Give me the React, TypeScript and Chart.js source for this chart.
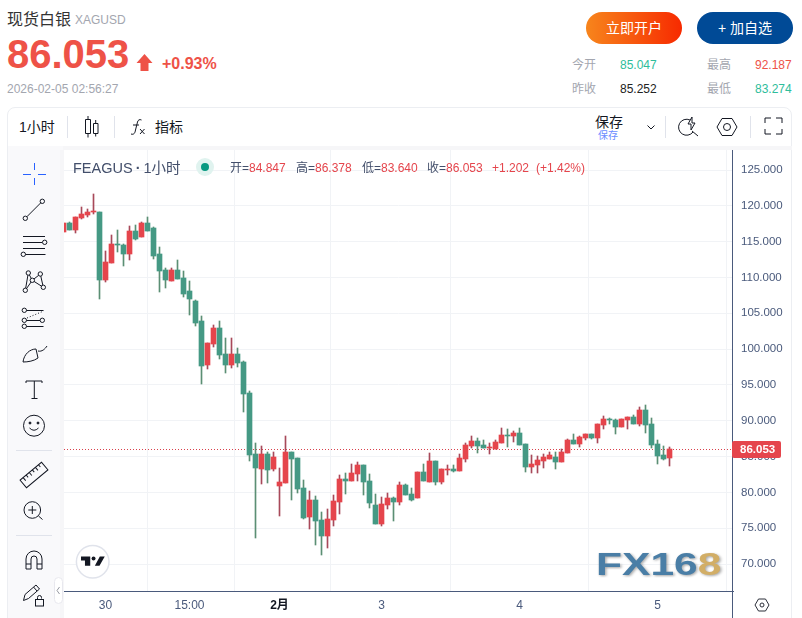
import React, { useEffect, useRef } from "react";
import { Chart, registerables } from "chart.js";

Chart.register(...registerables);

const opens = [116.34,117.60,116.62,118.30,118.72,119.14,119.14,109.64,112.02,114.67,114.53,113.27,116.48,115.65,117.60,116.90,113.27,111.04,109.50,111.04,109.92,108.11,106.71,103.92,97.78,100.71,102.94,99.31,97.78,99.31,98.20,93.87,85.36,83.26,85.36,83.26,80.89,81.31,85.63,84.80,80.61,76.56,78.93,76.14,73.91,76.14,78.65,81.86,81.58,82.56,83.82,81.58,78.23,75.58,78.23,79.21,78.65,81.03,79.77,79.21,82.84,81.45,84.38,81.45,83.12,83.26,82.98,84.66,86.47,87.17,86.61,86.19,86.05,86.89,88.01,87.87,88.29,86.75,83.54,83.82,84.38,84.66,84.94,84.24,85.49,87.31,86.75,87.59,88.15,87.59,89.40,90.24,90.10,89.12,90.10,90.52,89.54,91.50,89.54,86.75,85.22,84.847];
const highs = [117.60,117.74,118.44,119.84,119.56,121.65,119.14,113.69,115.93,116.62,114.67,117.18,117.32,117.74,118.44,117.04,114.25,111.32,111.32,112.44,110.90,109.50,106.85,104.62,100.85,103.36,103.92,101.55,101.55,100.15,98.34,94.15,86.89,86.47,85.63,85.63,83.40,87.87,85.63,84.80,81.72,80.19,79.49,77.26,77.68,79.63,82.42,82.70,83.96,84.24,83.82,82.56,79.77,79.35,79.91,79.35,81.45,81.17,80.61,82.84,83.96,85.49,84.38,83.26,83.82,83.82,85.36,86.89,87.87,87.59,87.31,86.89,87.31,88.98,88.84,88.57,88.98,86.75,85.22,85.08,85.36,85.63,85.63,86.05,87.45,88.14,87.87,88.15,88.15,89.54,90.66,90.38,90.24,90.24,90.52,90.80,91.92,92.187,90.38,87.31,86.47,86.378];
const lows = [116.34,116.62,116.20,118.16,118.44,118.86,106.99,109.36,112.02,113.55,111.60,112.44,115.23,115.65,116.48,112.58,107.97,108.53,109.50,109.78,107.27,104.76,103.22,95.12,97.22,100.29,98.62,96.66,97.36,97.50,91.22,84.38,73.63,81.17,81.31,82.98,76.70,81.31,78.93,79.91,76.28,74.88,72.65,71.25,72.23,75.30,76.98,79.77,81.58,81.58,79.63,77.82,75.58,75.30,77.68,76.00,78.23,79.63,78.79,79.21,81.58,81.45,81.03,81.17,82.42,82.84,82.98,84.24,86.19,85.49,86.19,85.36,86.05,86.89,86.33,87.03,86.61,82.84,82.70,82.70,83.40,84.66,83.26,84.24,85.49,86.75,86.33,87.31,87.45,86.89,88.84,89.54,88.15,89.12,88.84,89.54,89.26,88.29,86.19,83.96,84.52,83.640];
const closes = [117.60,116.62,118.44,118.86,119.14,119.32,109.64,112.16,114.67,114.53,113.27,116.48,115.37,117.60,116.48,112.99,110.90,109.64,111.04,109.78,107.69,106.99,103.64,97.64,100.85,102.94,99.17,97.78,99.31,98.06,93.73,85.22,83.40,85.36,83.12,84.94,81.45,85.63,84.66,80.47,76.42,78.93,76.00,73.91,76.28,78.79,81.86,81.58,82.70,83.82,81.45,78.51,75.58,78.37,79.21,78.65,81.03,79.63,78.93,82.84,81.58,84.38,81.45,83.26,83.26,82.98,84.80,86.61,87.17,86.47,86.19,86.33,87.03,88.01,87.87,88.29,86.61,83.54,83.96,84.52,84.94,85.22,84.24,85.63,87.31,86.75,87.73,88.15,87.59,89.54,90.24,90.10,89.12,90.24,90.52,89.54,91.50,89.40,86.61,85.08,84.66,86.053];

const priceTicks = [70, 75, 80, 85, 90, 95, 100, 105, 110, 115, 120, 125];
const timeTickIndex = [7, 21, 36, 53, 76, 99];
const timeTickLabels = ["30", "15:00", "2月", "3", "4", "5"];
const lastPrice = 86.053;

const FONT = '"Liberation Sans","Noto Sans CJK SC",sans-serif';
const UP = "#e5454c";
const DOWN = "#459984";
const UP_WICK = "#a8495a";
const DOWN_WICK = "#5b8f74";
const AXIS = "#4a5a7c";
const GRID = "#f1f3f6";
const X_MIN = 0.5 / 6;
const X_MAX = 669.5 / 6;
const Y_MAX = 125 + 20 / 7.164;
const Y_MIN = Y_MAX - 441 / 7.164;

const snapBars = {
  id: "snapBars",
  beforeDatasetsDraw(chart: any) {
    const { ctx, chartArea, scales } = chart;
    const py = Math.round(scales.y.getPixelForValue(lastPrice)) + 0.5;
    ctx.save();
    ctx.strokeStyle = "#d9404c";
    ctx.lineWidth = 1;
    ctx.setLineDash([1, 2]);
    ctx.beginPath();
    ctx.moveTo(chartArea.left, py);
    ctx.lineTo(chartArea.right, py);
    ctx.stroke();
    ctx.restore();
    chart.getSortedVisibleDatasetMetas().forEach((meta: any) => {
      if (meta.type !== "bar") return;
      meta.data.forEach((el: any) => {
        const y = Math.round(el.y);
        let b = Math.round(el.base);
        if (b === y) b = y + 1;
        el.y = y;
        el.base = b;
      });
    });
  },
};

const priceTag = {
  id: "priceTag",
  afterDraw(chart: any) {
    const { ctx, chartArea, scales } = chart;
    const py = Math.round(scales.y.getPixelForValue(lastPrice));
    ctx.save();
    ctx.strokeStyle = AXIS;
    ctx.lineWidth = 1;
    ctx.beginPath();
    ctx.moveTo(chartArea.right - 0.5, 0);
    ctx.lineTo(chartArea.right - 0.5, chart.height);
    ctx.stroke();
    ctx.fillStyle = "#e5454c";
    ctx.beginPath();
    ctx.roundRect(chartArea.right - 1, py - 8, 49, 17, 2);
    ctx.fill();
    ctx.fillStyle = "#fff";
    ctx.font = `bold 11.5px ${FONT}`;
    ctx.textBaseline = "middle";
    ctx.textAlign = "left";
    ctx.fillText(lastPrice.toFixed(3), chartArea.right + 7, py + 1);
    ctx.restore();
  },
};

function T(p: { x: number; y: number; s: number; c: string; children: any; w?: number; b?: boolean; r?: boolean }) {
  const lh = Math.ceil(p.s * 1.4);
  const st: any = {
    position: "absolute",
    top: p.y - lh / 2,
    fontSize: p.s,
    lineHeight: lh + "px",
    color: p.c,
    whiteSpace: "nowrap",
    fontWeight: p.b ? 700 : 400,
    fontFamily: FONT,
  };
  if (p.r) st.right = 802 - p.x;
  else st.left = p.x;
  return <div style={st}>{p.children}</div>;
}

export default function App() {
  const ref = useRef<HTMLCanvasElement>(null);
  useEffect(() => {
    const idx = opens.map((_, i) => i);
    const isUp = (i: number) => closes[i] >= opens[i];
    const noPad = (s: any) => {
      s.paddingTop = 0;
      s.paddingBottom = 0;
      s.paddingLeft = 0;
      s.paddingRight = 0;
    };
    const chart = new Chart(ref.current as HTMLCanvasElement, {
      type: "bar",
      data: {
        datasets: [
          {
            data: idx.map((i) => ({ x: i, y: [lows[i], highs[i]] })),
            backgroundColor: idx.map((i) => (isUp(i) ? UP_WICK : DOWN_WICK)),
            barThickness: 1,
            grouped: false,
            order: 2,
          },
          {
            data: idx.map((i) => ({ x: i, y: [opens[i], closes[i]] })),
            backgroundColor: idx.map((i) => (isUp(i) ? UP : DOWN)),
            barThickness: 5,
            grouped: false,
            minBarLength: 1,
            order: 1,
          },
        ],
      } as any,
      options: {
        animation: false,
        responsive: false,
        events: [],
        layout: { padding: 0 },
        plugins: { legend: { display: false }, tooltip: { enabled: false } },
        scales: {
          x: {
            type: "linear",
            offset: false,
            min: X_MIN,
            max: X_MAX,
            afterBuildTicks: (s: any) => {
              s.ticks = timeTickIndex.map((v) => ({ value: v }));
            },
            afterFit: (s: any) => {
              s.height = 27;
              noPad(s);
            },
            grid: { color: GRID, drawTicks: false },
            border: { display: true, color: AXIS },
            ticks: {
              autoSkip: false,
              maxRotation: 0,
              padding: 7,
              callback: (v: any) => timeTickLabels[timeTickIndex.indexOf(Number(v))],
              color: (c: any) => (timeTickLabels[c.index] === "2月" ? "#131722" : "#4a5a7c"),
              font: (c: any) => ({ family: FONT, size: 12, weight: timeTickLabels[c.index] === "2月" ? "bold" : "normal" }),
            },
          },
          y: {
            position: "right",
            min: Y_MIN,
            max: Y_MAX,
            afterBuildTicks: (s: any) => {
              s.ticks = priceTicks.map((v) => ({ value: v }));
            },
            afterFit: (s: any) => {
              s.width = 60;
              noPad(s);
            },
            grid: { color: GRID, drawTicks: false },
            border: { display: false },
            ticks: {
              padding: 8,
              color: "#4a5a7c",
              font: { family: FONT, size: 11.5 },
              callback: (v: any) => Number(v).toFixed(3),
            },
          },
        },
      } as any,
      plugins: [snapBars, priceTag],
    });
    return () => chart.destroy();
  }, []);

  const RED = "#ee5247";
  const GREY = "#a3a6af";
  const TEAL = "#2ebd9b";
  const INK = "#131722";
  const SLATE = "#434f6b";

  return (
    <div style={{ position: "absolute", left: 0, top: 0, width: 802, height: 618, overflow: "hidden", background: "#fff", fontFamily: FONT }}>
      <T x={7} y={19} s={16} c="#333">现货白银</T>
      <T x={75} y={20} s={12} c={GREY}>XAGUSD</T>
      <T x={7} y={54} s={40} c={RED} b>86.053</T>
      <T x={162} y={63} s={16} c={RED} b>+0.93%</T>
      <T x={7} y={89} s={12} c={GREY}>2026-02-05 02:56:27</T>

      <div style={{ position: "absolute", left: 586, top: 12, width: 96, height: 32, borderRadius: 16, background: "linear-gradient(90deg,#f7851c,#f72a00)", color: "#fff", fontSize: 14, lineHeight: "32px", textAlign: "center" }}>立即开户</div>
      <div style={{ position: "absolute", left: 697, top: 12, width: 96, height: 32, borderRadius: 16, background: "#004a96", color: "#fff", fontSize: 14, lineHeight: "32px", textAlign: "center" }}>+ 加自选</div>

      <T x={572} y={65} s={12} c={GREY}>今开</T>
      <T x={620} y={65} s={12} c={TEAL}>85.047</T>
      <T x={707} y={65} s={12} c={GREY}>最高</T>
      <T x={755} y={65} s={12} c={RED}>92.187</T>
      <T x={572} y={89} s={12} c={GREY}>昨收</T>
      <T x={620} y={89} s={12} c="#222">85.252</T>
      <T x={707} y={89} s={12} c={GREY}>最低</T>
      <T x={755} y={89} s={12} c={TEAL}>83.274</T>

      {/* panel */}
      <div style={{ position: "absolute", left: 7, top: 107, width: 785, height: 520, boxSizing: "border-box", border: "1px solid #eceef2", borderRadius: "8px 8px 0 0" }} />
      <div style={{ position: "absolute", left: 8, top: 146, width: 784, height: 4, background: "#f6f6f8" }} />
      <div style={{ position: "absolute", left: 8, top: 146, width: 55, height: 472, background: "#f9f9fb" }} />
      <div style={{ position: "absolute", left: 60, top: 150, width: 4, height: 468, background: "#f6f6f8" }} />

      <T x={19} y={127} s={14} c={INK}>1小时</T>
      <T x={155} y={127} s={14} c={INK}>指标</T>
      <T x={595} y={122} s={14} c={INK}>保存</T>
      <T x={598} y={136} s={10} c="#6a8cff">保存</T>

      <canvas ref={ref} width={729} height={468} style={{ position: "absolute", left: 64, top: 150, width: 729, height: 468, display: "block" }} />

      {/* legend */}
      <T x={73} y={168} s={14.5} c={SLATE}>FEAGUS<b style={{ margin: "0 3px" }}>·</b>1小时</T>
      <T x={230} y={168} s={12} c="#434f6b">开=<span style={{ color: UP }}>84.847</span></T>
      <T x={296} y={168} s={12} c="#434f6b">高=<span style={{ color: UP }}>86.378</span></T>
      <T x={362} y={168} s={12} c="#434f6b">低=<span style={{ color: UP }}>83.640</span></T>
      <T x={427} y={168} s={12} c="#434f6b">收=<span style={{ color: UP }}>86.053</span></T>
      <T x={492} y={168} s={12} c={UP}>+1.202</T>
      <T x={536} y={168} s={12} c={UP}>(+1.42%)</T>

      {/* watermark */}
      <div style={{ position: "absolute", left: 596, top: 546, fontSize: 32, lineHeight: "36px", fontWeight: 700, transform: "scaleX(1.33)", transformOrigin: "left top", whiteSpace: "nowrap", filter: "drop-shadow(1px 1px 1px rgba(0,0,0,.35))" }}>
        <span style={{ color: "#4a7ea6" }}>FX16</span>
        <span style={{ color: "#d2ae66" }}>8</span>
      </div>

      <svg width={802} height={618} style={{ position: "absolute", left: 0, top: 0, pointerEvents: "none" }} fill="none" stroke={INK} strokeWidth={1}>
        {/* arrow */}
        <path d="M144.5 54 L152.5 63 H148.5 V71 H140.5 V63 H136.5 Z" fill={RED} stroke="none" />
        {/* toolbar separators */}
        <path d="M67.5 116V138 M114.5 116V138 M665.5 116V138 M750.5 116V138" stroke="#e0e3eb" />
        {/* candle icon */}
        <path d="M85.5 119.5h5v14h-5z M88 116v3.5 M88 133.5v4 M93.5 123.5h4.5v10h-4.5z M95.7 120v3.5 M95.7 133.5v3" />
        {/* fx icon */}
        <path d="M131 134c3 1 4-1 4.5-4l2-8c.5-2 2-3 4-2 M133 125h6 M140 129l4.5 5 M144.5 129l-4.5 5" />
        {/* chevron */}
        <path d="M647.5 125.5l3.5 3.5 3.5-3.5" />
        {/* flash */}
        <path d="M690 120a8 8 0 1 0 3 12 M698 136l-6-5 M688 124l4-7v6h3l-4 7v-6z" />
        {/* hexagon */}
        <path d="M717 127l5-8.5h10l5 8.5-5 8.5h-10z" />
        <circle cx={727} cy={127} r={3.5} />
        {/* fullscreen */}
        <path d="M765 123v-5h6 M776 118h6v5 M782 129v5h-6 M771 134h-6v-5" />

        {/* crosshair */}
        <path d="M34.5 163v7 M34.5 178v7 M23 174.5h8 M38 174.5h8" stroke="#2962ff" />
        {/* line */}
        <path d="M26.8 216.8L40.8 202.8" />
        <circle cx={25.3} cy={218.3} r={2.2} />
        <circle cx={42.3} cy={201.3} r={2.2} />
        {/* lines */}
        <path d="M23 236.5h22 M23 242.5h19 M23 248.5h22 M25.5 254.5h20" />
        <circle cx={44.7} cy={242.3} r={2.2} />
        <circle cx={23.3} cy={254.3} r={2.2} />
        {/* pattern */}
        <path d="M25.3 290.3L28.3 273L32.3 280.3L25.3 290.3 M32.3 280.3L40.3 274L43.3 287.3L32.3 280.3" />
        <circle cx={25.3} cy={290.3} r={2.2} fill="#f9f9fb" />
        <circle cx={28.3} cy={273} r={2.2} fill="#f9f9fb" />
        <circle cx={32.3} cy={280.3} r={2.2} fill="#f9f9fb" />
        <circle cx={40.3} cy={274} r={2.2} fill="#f9f9fb" />
        <circle cx={43.3} cy={287.3} r={2.2} fill="#f9f9fb" />
        {/* lines 2 */}
        <path d="M26.5 310.5h17 M26.5 320.5h13.5 M26.5 326.5h17" />
        <path d="M27 318L43.7 311" strokeDasharray="1 2" />
        <circle cx={24.3} cy={310.3} r={2.2} />
        <circle cx={24.3} cy={320.3} r={2.2} />
        <circle cx={42.3} cy={320.3} r={2.2} />
        <circle cx={24.3} cy={326.3} r={2.2} />
        {/* brush */}
        <path d="M23 362C24 354 30 349 36 349L38 358C34 361 28 362 23 362Z M38 351C42 352 45 349 47 346" />
        {/* T */}
        <path d="M26 383v-2h16v2 M34.3 381v17 M31.5 398.5h6" />
        {/* smile */}
        <circle cx={34} cy={425.7} r={10.5} />
        <circle cx={30} cy={423} r={1} fill={INK} />
        <circle cx={38} cy={423} r={1} fill={INK} />
        <path d="M29.5 428Q34 432.5 38.5 428" />
        <path d="M16 450.5H52 M16 535.5H52" stroke="#e0e3eb" />
        {/* ruler */}
        <g transform="rotate(-40 34 475)">
          <rect x={20} y={470} width={28} height={10} />
          <path d="M24 470v4 M28 470v3 M32 470v4 M36 470v3 M40 470v4 M44 470v3" />
        </g>
        {/* zoom */}
        <circle cx={32.3} cy={510} r={8.3} />
        <path d="M28.3 510h8 M32.3 506v8 M38.5 516l4 3.5" />
        {/* magnet */}
        <path d="M26 569V559a8 8 0 0 1 16 0V569H37V559a3 3 0 0 0-6 0V569Z M26 564h5 M37 564h5" />
        {/* pencil + lock */}
        <path d="M23.5 600.5l1.5-6 11-9.5 3.5 4-11 9.5z M33.5 587l3.5 4" />
        <rect x={35.5} y={599.5} width={8} height={6.5} />
        <path d="M37.5 599.5v-2a2 2 0 0 1 4 0v1" />
        {/* collapse */}
        <rect x={54.5} y={577.5} width={8} height={26} rx={4} fill="#fff" stroke="#e8e8ee" />
        <path d="M59.5 587l-2.5 3.5 2.5 3.5" stroke="#9598a1" />

        {/* status dot */}
        <circle cx={205} cy={167} r={9} fill="#e0f3ef" stroke="none" />
        <circle cx={205} cy={167} r={4} fill="#089981" stroke="none" />

        {/* tv logo */}
        <circle cx={92.7} cy={561.7} r={16.3} fill="#fff" stroke="#e0e3eb" strokeWidth={1.5} />
        <g transform="translate(81,552.5) scale(.66)" fill={INK} stroke="none">
          <path d="M14 6H0v6h6v8h8V6zM28 20h-7l7.5-14H36l-8 14z" />
          <circle cx={19} cy={9} r={3} />
        </g>

        {/* axis hexagon */}
        <path d="M755 605l3.5-6h7l3.5 6-3.5 6h-7z" stroke="#2a2e39" />
        <circle cx={762} cy={605} r={2} stroke="#2a2e39" />
      </svg>
    </div>
  );
}
